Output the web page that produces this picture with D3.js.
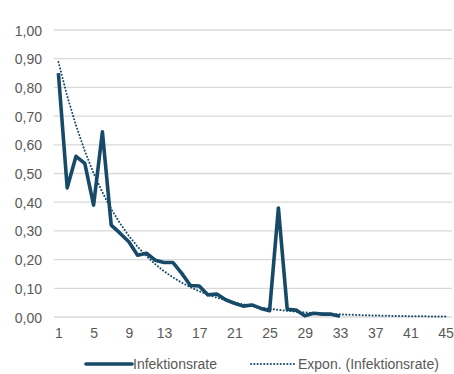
<!DOCTYPE html>
<html>
<head>
<meta charset="utf-8">
<script src="https://cdn.jsdelivr.net/npm/d3@7"></script>
<style>
  html, body { margin: 0; padding: 0; background: #fff; }
  svg { display: block; font-family: "Liberation Sans", Arial, sans-serif; }
</style>
</head>
<body>
<svg id="chart" width="454" height="374"></svg>
<script>
// ---- data ----
const days = d3.range(1, 46);            // category axis 1..45
const tickLabels = [1, 5, 9, 13, 17, 21, 25, 29, 33, 37, 41, 45];
const yTicks = [0, 0.1, 0.2, 0.3, 0.4, 0.5, 0.6, 0.7, 0.8, 0.9, 1.0];
const infektionsrate = [
  0.85, 0.45, 0.56, 0.535, 0.39, 0.645, 0.32, 0.292, 0.262, 0.215,
  0.222, 0.198, 0.19, 0.19, 0.153, 0.11, 0.108, 0.077, 0.08, 0.06,
  0.048, 0.038, 0.042, 0.03, 0.022, 0.38, 0.027, 0.024, 0.004, 0.013,
  0.01, 0.01, 0.003
];
const seriesName = "Infektionsrate";
const trendName = "Expon. (Infektionsrate)";

// ---- layout ----
const svg = d3.select("#chart");
const x = d3.scalePoint().domain(days).range([54, 450]).padding(0.5);
const y = d3.scaleLinear().domain([0, 1]).range([317, 30]);
const color = "#174a68";
const textColor = "#595959";
const fmt = v => d3.format(".2f")(v).replace(".", ",");

// gridlines
svg.append("g").selectAll("line").data(yTicks).join("line")
  .attr("x1", 54).attr("x2", 452)
  .attr("y1", d => y(d)).attr("y2", d => y(d))
  .attr("stroke", "#d9d9d9").attr("stroke-width", 1.3);

// y axis labels
const yAxis = d3.axisLeft(y).tickValues(yTicks).tickFormat(fmt).tickSize(0).tickPadding(0);
const gy = svg.append("g").attr("transform", "translate(42,0)").call(yAxis);
gy.select(".domain").remove();
gy.selectAll("text").attr("fill", textColor).style("font-size", "14px")
  .style("font-family", "'Liberation Sans', Arial, sans-serif").attr("dy", "0.36em");

// x axis labels
const xAxis = d3.axisBottom(x).tickValues(tickLabels).tickSize(0).tickPadding(0);
const gx = svg.append("g").attr("transform", "translate(0,328)").call(xAxis);
gx.select(".domain").remove();
gx.selectAll("text").attr("fill", textColor).style("font-size", "14px")
  .style("font-family", "'Liberation Sans', Arial, sans-serif").attr("dy", "0.71em");

// exponential trendline (least squares on ln y, as in the spreadsheet)
const n = infektionsrate.length;
const xs = d3.range(1, n + 1);
const lys = infektionsrate.map(v => Math.log(v));
const mx = d3.mean(xs), my = d3.mean(lys);
const b = d3.sum(xs, (xi, i) => (xi - mx) * (lys[i] - my)) / d3.sum(xs, xi => (xi - mx) ** 2);
const a = my - b * mx;
const trend = days.map(d => ({ d, v: Math.exp(a + b * d) }));

svg.append("path").datum(trend)
  .attr("fill", "none").attr("stroke", color).attr("stroke-width", 2)
  .attr("stroke-dasharray", "0.1,3.2").attr("stroke-linecap", "round")
  .attr("d", d3.line().x(p => x(p.d)).y(p => y(p.v)));

// main series
svg.append("path").datum(infektionsrate)
  .attr("fill", "none").attr("stroke", color).attr("stroke-width", 3.6)
  .attr("stroke-linejoin", "round")
  .attr("d", d3.line().x((v, i) => x(i + 1)).y(v => y(v)));

// legend
const lg = svg.append("g").attr("transform", "translate(0,364)");
lg.append("line").attr("x1", 86).attr("x2", 132).attr("y1", 0).attr("y2", 0)
  .attr("stroke", color).attr("stroke-width", 3.6).attr("stroke-linecap", "round");
lg.append("text").attr("x", 133).attr("y", 0).attr("dy", "0.36em")
  .attr("fill", textColor).style("font-size", "14px").text(seriesName);
lg.append("line").attr("x1", 251).attr("x2", 295).attr("y1", 0).attr("y2", 0)
  .attr("stroke", color).attr("stroke-width", 2)
  .attr("stroke-dasharray", "0.1,3.2").attr("stroke-linecap", "round");
lg.append("text").attr("x", 298).attr("y", 0).attr("dy", "0.36em")
  .attr("fill", textColor).style("font-size", "14px").text(trendName);
</script>
</body>
</html>
